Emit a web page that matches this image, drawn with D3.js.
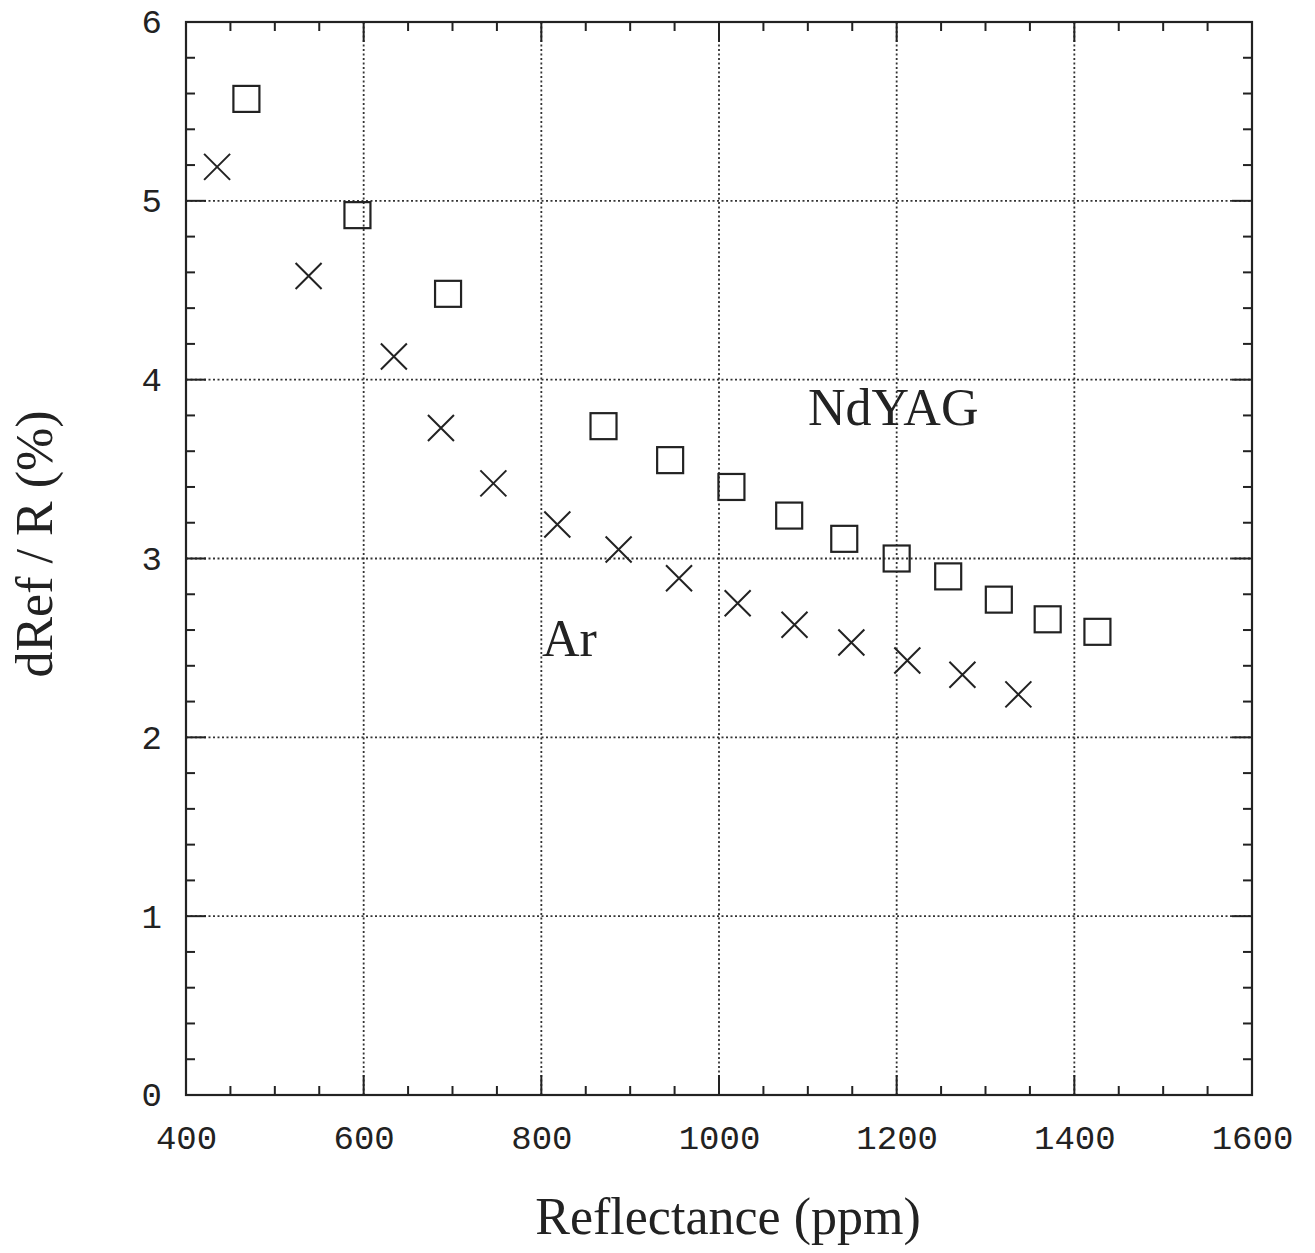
<!DOCTYPE html>
<html>
<head>
<meta charset="utf-8">
<script src="https://cdn.jsdelivr.net/npm/d3@7"></script>
<style>
  body { margin: 0; background: #fff; }
  svg { display: block; }
</style>
</head>
<body>
<script>
// NdYAG (squares) and Ar (crosses)
var ndyagX = [468, 593, 695, 870, 945, 1014, 1079, 1141, 1200, 1258, 1315, 1370, 1426];
var ndyagY = [5.57, 4.92, 4.48, 3.74, 3.55, 3.40, 3.24, 3.11, 3.00, 2.90, 2.77, 2.66, 2.59];
var arX = [435, 538, 634, 687, 746, 818, 887, 955, 1021, 1085, 1149, 1212, 1274, 1337];
var arY = [5.19, 4.58, 4.13, 3.73, 3.42, 3.19, 3.05, 2.89, 2.75, 2.63, 2.53, 2.43, 2.35, 2.24];

var xTicks = [400, 600, 800, 1000, 1200, 1400, 1600];
var yTicks = [0, 1, 2, 3, 4, 5, 6];

var w = 1315, h = 1253;
var pLeft = 186, pRight = 1252, pTop = 22, pBottom = 1095;
var ink = "#222";

var x = d3.scaleLinear().domain([400, 1600]).range([pLeft, pRight]);
var y = d3.scaleLinear().domain([0, 6]).range([pBottom, pTop]);

var svg = d3.select("body").append("svg")
  .attr("width", w)
  .attr("height", h);

// dotted grid
var grid = svg.append("g")
  .attr("stroke", "#333")
  .attr("stroke-width", 1.8)
  .attr("stroke-dasharray", "2,2.5");

grid.selectAll("line.vx")
  .data(xTicks.slice(1, -1))
  .enter().append("line")
  .attr("x1", function(d) { return x(d); })
  .attr("x2", function(d) { return x(d); })
  .attr("y1", pTop)
  .attr("y2", pBottom);

grid.selectAll("line.hy")
  .data(yTicks.slice(1, -1))
  .enter().append("line")
  .attr("x1", pLeft)
  .attr("x2", pRight)
  .attr("y1", function(d) { return y(d); })
  .attr("y2", function(d) { return y(d); });

// frame
svg.append("rect")
  .attr("x", pLeft)
  .attr("y", pTop)
  .attr("width", pRight - pLeft)
  .attr("height", pBottom - pTop)
  .attr("fill", "none")
  .attr("stroke", ink)
  .attr("stroke-width", 2.2);

// inward ticks on all four sides
var xMinor = d3.range(400, 1601, 50).filter(function(d) { return d % 200 != 0; });
var yMinor = d3.range(0, 31, 1).map(function(d) { return d / 5; }).filter(function(d) { return Math.abs(d - Math.round(d)) > 1e-6; });

var ticks = svg.append("g").attr("stroke", ink).attr("stroke-width", 2);

function xTick(vals, len) {
  vals.forEach(function(v) {
    ticks.append("line").attr("x1", x(v)).attr("x2", x(v)).attr("y1", pBottom).attr("y2", pBottom - len);
    ticks.append("line").attr("x1", x(v)).attr("x2", x(v)).attr("y1", pTop).attr("y2", pTop + len);
  });
}
function yTick(vals, len) {
  vals.forEach(function(v) {
    ticks.append("line").attr("x1", pLeft).attr("x2", pLeft + len).attr("y1", y(v)).attr("y2", y(v));
    ticks.append("line").attr("x1", pRight).attr("x2", pRight - len).attr("y1", y(v)).attr("y2", y(v));
  });
}
xTick(xMinor, 9);
xTick(xTicks.slice(1, -1), 20);
yTick(yMinor, 9);
yTick(yTicks.slice(1, -1), 20);

// tick labels via axes, no tick lines
var xAxis = svg.append("g")
  .attr("transform", "translate(0," + pBottom + ")")
  .call(d3.axisBottom(x).tickValues(xTicks).tickSize(0).tickPadding(30).tickFormat(d3.format("d")));
var yAxis = svg.append("g")
  .attr("transform", "translate(" + pLeft + ",0)")
  .call(d3.axisLeft(y).tickValues(yTicks).tickSize(0).tickPadding(24).tickFormat(d3.format("d")));

[xAxis, yAxis].forEach(function(a) {
  a.select(".domain").remove();
  a.selectAll("text")
    .attr("font-family", "'Liberation Mono', 'Courier New', monospace")
    .attr("font-size", 34)
    .attr("fill", ink);
});

// markers
var s = 26;
svg.append("g").selectAll("rect")
  .data(ndyagX)
  .enter().append("rect")
  .attr("x", function(d) { return x(d) - s / 2; })
  .attr("y", function(d, i) { return y(ndyagY[i]) - s / 2; })
  .attr("width", s)
  .attr("height", s)
  .attr("fill", "none")
  .attr("stroke", ink)
  .attr("stroke-width", 2.2);

svg.append("g").selectAll("path")
  .data(arX)
  .enter().append("path")
  .attr("d", function(d, i) {
    var cx = x(d), cy = y(arY[i]), r = s / 2;
    return "M" + (cx - r) + "," + (cy - r) + "L" + (cx + r) + "," + (cy + r) +
           "M" + (cx - r) + "," + (cy + r) + "L" + (cx + r) + "," + (cy - r);
  })
  .attr("fill", "none")
  .attr("stroke", ink)
  .attr("stroke-width", 2);

// labels
var serif = "'Liberation Serif', 'Times New Roman', serif";

svg.append("text")
  .attr("x", 808).attr("y", 425)
  .attr("font-family", serif).attr("font-size", 52).attr("fill", ink)
  .text("NdYAG");

svg.append("text")
  .attr("x", 542).attr("y", 656)
  .attr("font-family", serif).attr("font-size", 52).attr("fill", ink)
  .text("Ar");

svg.append("text")
  .attr("x", 728).attr("y", 1234)
  .attr("text-anchor", "middle")
  .attr("font-family", serif).attr("font-size", 52).attr("fill", ink)
  .text("Reflectance (ppm)");

svg.append("text")
  .attr("transform", "translate(52,544) rotate(-90)")
  .attr("text-anchor", "middle")
  .attr("font-family", serif).attr("font-size", 52).attr("fill", ink)
  .text("dRef / R (%)");
</script>
</body>
</html>
